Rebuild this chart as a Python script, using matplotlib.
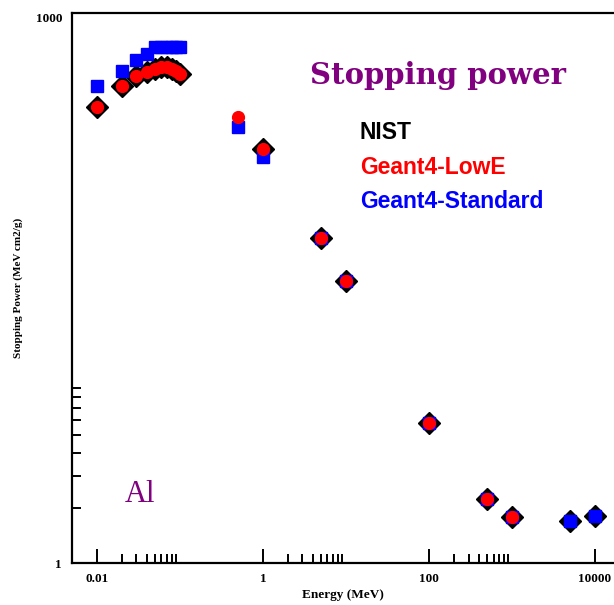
import numpy as np
import matplotlib
matplotlib.use("Agg")
import matplotlib.pyplot as plt
from matplotlib.ticker import FixedLocator, NullFormatter

# energies in MeV, stopping power in MeV cm2/g
nist_e = [0.01, 0.02, 0.03, 0.04, 0.05, 0.06, 0.07, 0.08, 0.09, 0.1,
          1, 5, 10, 100, 500, 1000, 5000, 10000]
nist_sp = [306, 399, 453, 476, 494, 507, 507, 494, 483, 464,
           181, 59, 34.7, 5.8, 2.24, 1.78, 1.70, 1.81]

lowe_e = [0.01, 0.02, 0.03, 0.04, 0.05, 0.06, 0.07, 0.08, 0.09, 0.1,
          0.5, 1, 5, 10, 100, 500, 1000]
lowe_sp = [306, 399, 453, 476, 494, 507, 507, 494, 483, 464,
           270, 181, 59, 34.7, 5.8, 2.24, 1.78]

std_e = [0.01, 0.02, 0.03, 0.04, 0.05, 0.06, 0.07, 0.08, 0.09, 0.1,
         0.5, 1, 5, 10, 100, 500, 1000, 5000, 10000]
std_sp = [399, 485, 553, 600, 655, 655, 655, 655, 655, 655,
          238, 163, 59, 34.7, 5.8, 2.24, 1.78, 1.70, 1.81]

x_major = [0.01, 1, 100, 10000]
x_labels = ["0.01", "1", "100", "10000"]

serif = "Liberation Serif"
sans = "Liberation Sans"
purple = "#800080"

fig = plt.figure(figsize=(6.14, 6.05), dpi=100)
ax = fig.add_axes([0.117, 0.0694, 0.883, 0.909])

ax.plot(nist_e, nist_sp, "D", color="black", ms=11, ls="none", zorder=2)
ax.plot(std_e, std_sp, "s", color="#0000ff", ms=9, ls="none", zorder=3)
ax.plot(lowe_e, lowe_sp, "o", color="#ff0000", ms=8.5, ls="none", zorder=4)

ax.set_xscale("log")
ax.set_yscale("log")
ax.set_xlim(0.005, 16950)
ax.set_ylim(1, 1000)

ax.xaxis.set_major_locator(FixedLocator(x_major))
ax.set_xticklabels(x_labels)
x_minor = []
for d in [0.01, 1, 100]:
    x_minor += [d * k for k in range(2, 10)]
ax.xaxis.set_minor_locator(FixedLocator(x_minor))
ax.xaxis.set_minor_formatter(NullFormatter())

ax.yaxis.set_major_locator(FixedLocator([1, 1000]))
ax.set_yticklabels(["1", "1000"])
ax.yaxis.set_minor_locator(FixedLocator(list(range(2, 10))))
ax.yaxis.set_minor_formatter(NullFormatter())

ax.tick_params(which="major", direction="in", length=10, width=1.4,
               top=False, right=False, pad=7)
ax.tick_params(which="minor", direction="in", length=6.5, width=1.4,
               top=False, right=False)
ax.tick_params(axis="y", which="major", length=0, pad=7)
for lab in ax.get_xticklabels() + ax.get_yticklabels():
    lab.set_fontfamily(serif)
    lab.set_fontweight("bold")
    lab.set_fontsize(9.5)
ax.get_yticklabels()[1].set_va("top")

for s in ["left", "bottom", "top"]:
    ax.spines[s].set_linewidth(1.6)
ax.spines["right"].set_visible(False)

ax.set_xlabel("Energy (MeV)", fontfamily=serif, fontsize=9.5,
              fontweight="bold", labelpad=3)
ax.set_ylabel("Stopping Power (MeV cm2/g)", fontfamily=serif, fontsize=8,
              fontweight="bold", labelpad=9)

ax.text(0.675, 0.887, "Stopping power", transform=ax.transAxes,
        fontfamily="DejaVu Serif", fontweight="bold", fontsize=21,
        color=purple, ha="center", va="center")
ax.text(0.531, 0.782, "NIST", transform=ax.transAxes, fontfamily=sans,
        fontweight="bold", fontsize=16.5, color="black", va="center")
ax.text(0.531, 0.72, "Geant4-LowE", transform=ax.transAxes, fontfamily=sans,
        fontweight="bold", fontsize=16.5, color="#ff0000", va="center")
ax.text(0.531, 0.658, "Geant4-Standard", transform=ax.transAxes,
        fontfamily=sans, fontweight="bold", fontsize=16.5, color="#0000ff",
        va="center")
ax.text(0.098, 0.124, "Al", transform=ax.transAxes, fontfamily=serif,
        fontsize=22, color=purple, va="center")

fig.savefig("out.png", dpi=100)
